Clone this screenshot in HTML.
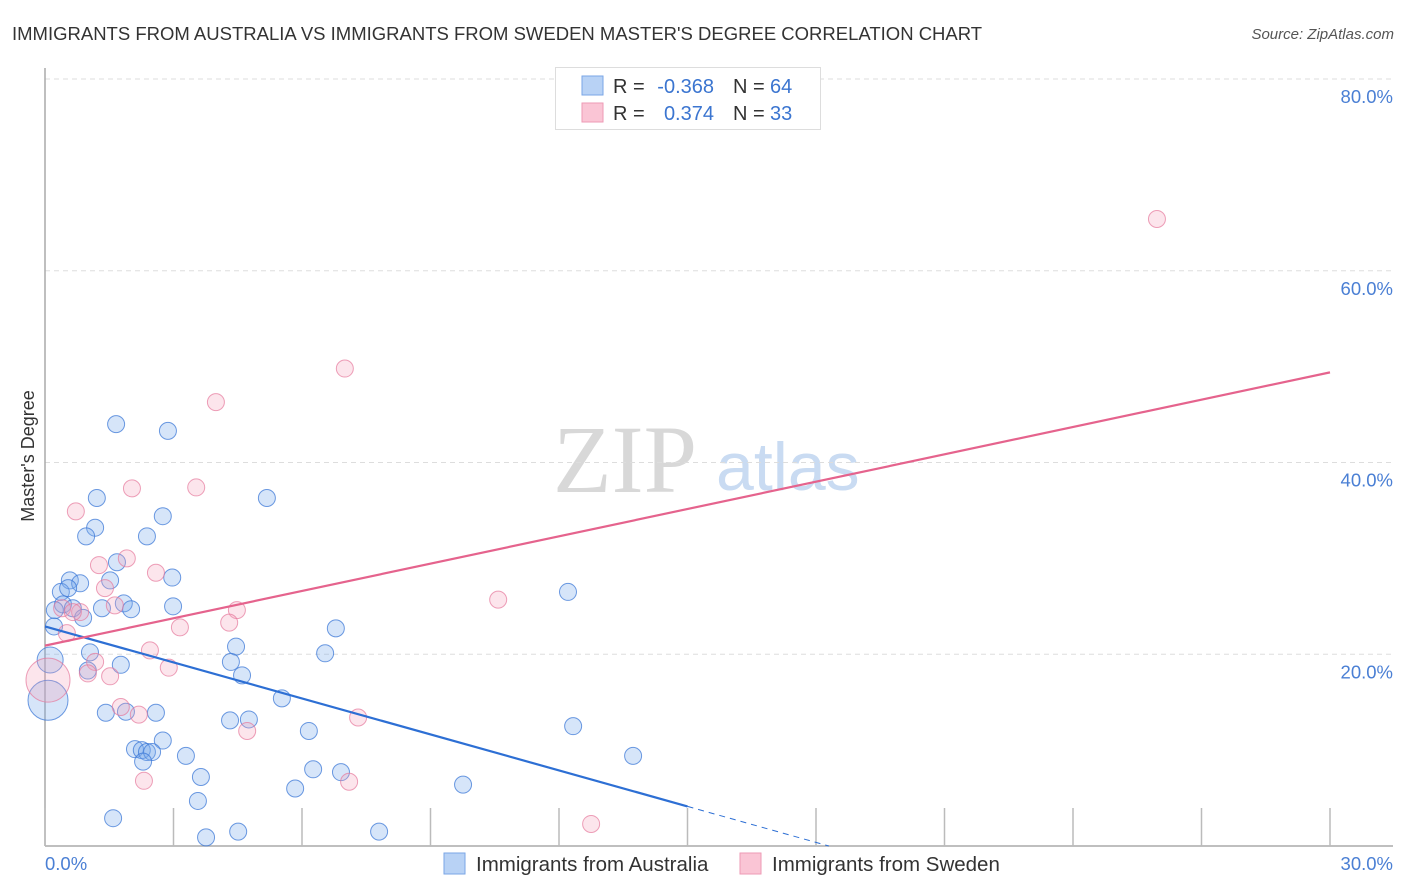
<!DOCTYPE html>
<html><head><meta charset="utf-8"><style>
body{margin:0;background:#fff;font-family:"Liberation Sans",sans-serif;}
#wrap{position:relative;width:1406px;height:892px;overflow:hidden}
</style></head><body>
<div id="wrap">
<svg id="svg" width="1406" height="892" xmlns="http://www.w3.org/2000/svg"></svg>
</div>
<script>
const blueX=[1.66,2.87,1.21,5.18,2.75,1.17,0.96,2.38,1.68,0.58,0.82,1.52,2.97,0.37,0.54,12.21,0.42,0.65,1.33,1.84,2.01,2.99,0.23,0.89,0.21,6.79,4.46,1.05,6.54,0.12,4.34,4.60,1.77,1.00,5.53,1.42,1.89,2.59,4.32,4.76,12.33,6.16,2.75,2.10,2.26,2.38,2.50,3.29,13.73,2.29,6.26,6.91,3.64,9.76,5.84,3.57,1.59,4.51,7.80,3.76,0.07];
const blueY=[44.0,43.3,36.3,36.3,34.4,33.2,32.3,32.3,29.6,27.7,27.4,27.7,28.0,26.5,26.9,26.5,25.2,24.8,24.8,25.3,24.7,25.0,24.6,23.8,22.9,22.7,20.8,20.2,20.1,19.4,19.2,17.8,18.9,18.3,15.4,13.9,14.0,13.9,13.1,13.2,12.5,12.0,11.0,10.1,10.0,9.8,9.8,9.4,9.4,8.8,8.0,7.7,7.2,6.4,6.0,4.7,2.9,1.5,1.5,0.9,15.2];
const pinkX=[25.96,7.00,3.99,2.03,3.53,0.72,1.91,1.26,2.59,1.40,0.40,1.63,0.82,4.48,4.30,3.15,2.45,0.51,1.17,2.89,1.00,1.52,10.58,1.77,2.19,7.31,4.72,2.31,7.10,12.75,0.07,0.65];
const pinkY=[65.4,49.8,46.3,37.3,37.4,34.9,30.0,29.3,28.5,26.9,24.8,25.1,24.4,24.6,23.3,22.8,20.4,22.2,19.2,18.6,18.0,17.7,25.7,14.5,13.7,13.4,12.0,6.8,6.7,2.3,17.3,24.4];
const blueBig=[29,60];
const pinkBig=[30];
const blueTrend=[22.9,0];
const blueTrendEnd=18.3;
const blueSolidEnd=15;
const pinkTrend=[20.9,49.4];
const yTicks=[20,40,60,80];
const yLabels=["20.0%","40.0%","60.0%","80.0%"];
const xTicks=[0,3,6,9,12,15,18,21,24,27,30];

const X=v=>45+v*(1285/30);
const Y=v=>846-v*(191.75/20);
const svg=document.getElementById('svg');
const NS='http://www.w3.org/2000/svg';
function mk(tag,attrs,parent){const e=document.createElementNS(NS,tag);for(const k in attrs)e.setAttribute(k,attrs[k]);(parent||svg).appendChild(e);return e;}

let t=mk('text',{x:12,y:40,'font-size':18.5,fill:'#333'});t.textContent="IMMIGRANTS FROM AUSTRALIA VS IMMIGRANTS FROM SWEDEN MASTER'S DEGREE CORRELATION CHART";


t=mk('text',{x:1394,y:39,'font-size':15,fill:'#555','font-style':'italic','text-anchor':'end'});t.textContent="Source: ZipAtlas.com";



t=mk('text',{x:553,y:492,'font-size':96,fill:'#d8d8d8','font-family':'Liberation Serif, serif'});t.textContent="ZIP";


t=mk('text',{x:716,y:490,'font-size':68,fill:'#c9dbf2'});t.textContent="atlas";



yTicks.forEach((v,i)=>{
  const g=mk('line',{x1:45,x2:1393,y1:Y(v),y2:Y(v),stroke:'#ddd','stroke-dasharray':'5,4'});
  
  
  const l=mk('text',{x:1393,y:Y(v)+24,'font-size':18.5,fill:'#4a7fd4','text-anchor':'end'});l.textContent=yLabels[i];
  
  
});
let a=mk('line',{x1:45,x2:45,y1:68,y2:846,stroke:'#aaa','stroke-width':1.5});


a=mk('line',{x1:45,x2:1393,y1:846,y2:846,stroke:'#aaa','stroke-width':1.5});


xTicks.forEach(v=>{const tk=mk('line',{x1:X(v),x2:X(v),y1:808,y2:846,stroke:'#bbb','stroke-width':1.5});
  
  });
t=mk('text',{x:45,y:870,'font-size':18.5,fill:'#4a7fd4'});t.textContent="0.0%";


t=mk('text',{x:1393,y:870,'font-size':18.5,fill:'#4a7fd4','text-anchor':'end'});t.textContent="30.0%";


t=mk('text',{x:34,y:456,'font-size':18,fill:'#333','text-anchor':'middle',transform:'rotate(-90 34 456)'});t.textContent="Master's Degree";



blueX.forEach((v,i)=>{const c=mk('circle',{cx:X(v),cy:Y(blueY[i]),r:blueBig.includes(i)?(i===60?20:13):8.5,fill:'rgba(120,170,235,0.3)',stroke:'rgba(60,120,215,0.75)','stroke-width':1});
  
  });
pinkX.forEach((v,i)=>{const c=mk('circle',{cx:X(v),cy:Y(pinkY[i]),r:pinkBig.includes(i)?22:8.5,fill:'rgba(245,160,185,0.28)',stroke:'rgba(230,120,155,0.7)','stroke-width':1});
  
  });

const by=x=>blueTrend[0]*(1-x/blueTrendEnd);
let ln=mk('line',{x1:X(0),y1:Y(by(0)),x2:X(blueSolidEnd),y2:Y(by(blueSolidEnd)),stroke:'#2d6fd4','stroke-width':2.2});


ln=mk('line',{x1:X(blueSolidEnd),y1:Y(by(blueSolidEnd)),x2:X(blueTrendEnd),y2:Y(0),stroke:'#2d6fd4','stroke-width':1,'stroke-dasharray':'6,5'});


ln=mk('line',{x1:X(0),y1:Y(pinkTrend[0]),x2:X(30),y2:Y(pinkTrend[1]),stroke:'#e5638d','stroke-width':2.2});



const lg=mk('g',{});


mk('rect',{x:555.5,y:67.5,width:265,height:62,fill:'#fff',stroke:'#ddd'},lg);
mk('rect',{x:582,y:76,width:21,height:19,fill:'#b8d2f5',stroke:'#7aa6e6'},lg);
mk('rect',{x:582,y:103,width:21,height:19,fill:'#fac5d5',stroke:'#ee9ab5'},lg);
const rows=[["-0.368","64",93],["0.374","33",120]];
rows.forEach(r=>{
 let e=mk('text',{x:613,y:r[2],'font-size':20,fill:'#333'},lg);e.textContent="R =";
 e=mk('text',{x:714,y:r[2],'font-size':20,fill:'#3b75d0','text-anchor':'end'},lg);e.textContent=r[0];
 e=mk('text',{x:733,y:r[2],'font-size':20,fill:'#333'},lg);e.textContent="N =";
 e=mk('text',{x:770,y:r[2],'font-size':20,fill:'#3b75d0'},lg);e.textContent=r[1];
});

const bl=mk('g',{});


mk('rect',{x:444,y:853,width:21,height:21,fill:'#b8d2f5',stroke:'#7aa6e6'},bl);
t=mk('text',{x:476,y:871,'font-size':20.5,fill:'#333'},bl);t.textContent="Immigrants from Australia";
mk('rect',{x:740,y:853,width:21,height:21,fill:'#fac5d5',stroke:'#ee9ab5'},bl);
t=mk('text',{x:772,y:871,'font-size':20.5,fill:'#333'},bl);t.textContent="Immigrants from Sweden";
</script>
</body></html>
